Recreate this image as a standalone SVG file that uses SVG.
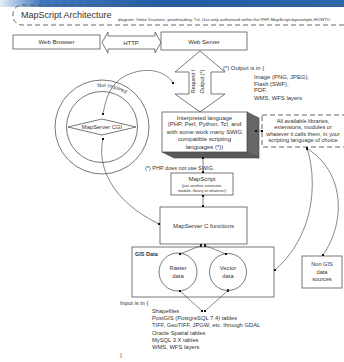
<svg xmlns="http://www.w3.org/2000/svg" width="344" height="362" viewBox="0 0 344 362">
<style>
text{font-family:"Liberation Sans",Arial,sans-serif;fill:#333}
.box{fill:#fff;stroke:#555;stroke-width:0.8}
.dash{fill:none;stroke:#555;stroke-width:0.9;stroke-dasharray:5 3}
.c{text-anchor:middle}
.con{fill:none;stroke:#555;stroke-width:0.7}
.d{marker-start:url(#dot);marker-end:url(#dot)}
</style>
<defs>
<linearGradient id="bg" x1="0" y1="0" x2="1" y2="0">
<stop offset="0" stop-color="#e6eef7"/>
<stop offset="0.12" stop-color="#3f78bd"/>
<stop offset="0.5" stop-color="#1f5ca6"/>
<stop offset="1" stop-color="#2a68b0"/>
</linearGradient>
<marker id="dot" viewBox="0 0 4 4" refX="2" refY="2" markerWidth="2.6" markerHeight="2.6" markerUnits="userSpaceOnUse"><rect x="0" y="0" width="4" height="4" fill="#111"/></marker>
</defs>
<rect x="0" y="0" width="344" height="7" fill="url(#bg)"/>
<g id="title">
<rect x="13" y="5" width="340" height="20" rx="9" class="dash" fill="#fff"/>
<text x="21" y="18" font-size="9">MapScript Architecture</text>
<text x="118" y="21" font-size="4.3" fill="#666">diagram: Vinko Vrsalovic; proofreading: Tvl. Use only authorized within the PHP-MapScript-byexample-HOWTO</text>
</g>
<g id="web-browser">
<rect x="13" y="35" width="87" height="14" class="box"/>
<text x="56.5" y="44" font-size="6" class="c">Web Browser</text>
</g>
<g id="http">
<polygon points="102,42.5 108,32 108,36 155,36 155,32 161,42.5 155,53 155,49 108,49 108,53" class="box"/>
<text x="131" y="44.5" font-size="6" class="c">HTTP</text>
</g>
<g id="web-server">
<rect x="161" y="32" width="86" height="18" class="box"/>
<text x="204" y="43.5" font-size="6" class="c">Web Server</text>
</g>
<g id="request-output">
<polygon points="200,51 225,72 211,72 211,94 225,94 200,112 175,94 189,94 189,72 175,72" class="box"/>
<text transform="translate(194.5,81.5) rotate(-90)" font-size="5.5" class="c">Request /</text>
<text transform="translate(203.5,81.5) rotate(-90)" font-size="5.5" class="c">Output (*)</text>
</g>
<g id="output-note" font-size="5.9">
<text x="223" y="70">(*) Output is in {</text>
<text x="254" y="79">Image (PNG, JPEG),</text>
<text x="254" y="85.5">Flash (SWF),</text>
<text x="254" y="92">PDF,</text>
<text x="254" y="100">WMS, WFS layers</text>
</g>
<g id="interpreted-language">
<polygon points="247,112 259,118 259,158 247,152" fill="#666" stroke="#444" stroke-width="0.6"/>
<polygon points="162,152 247,152 259,158 174,158" fill="#5a5a5a" stroke="#444" stroke-width="0.6"/>
<rect x="162" y="112" width="85" height="40" class="box"/>
<g font-size="6" class="c">
<text x="204.5" y="119.5">Interpreted language</text>
<text x="204.5" y="126">(PHP, Perl, Python, Tcl, and</text>
<text x="204.5" y="133.5">with some work many SWIG</text>
<text x="204.5" y="141">compatible scripting</text>
<text x="204.5" y="149">languages (*))</text>
</g>
</g>
<g id="libraries">
<rect x="262" y="115" width="95" height="32" class="dash" fill="#fff"/>
<g font-size="5.6" class="c">
<text x="303" y="123">All available libraries,</text>
<text x="303" y="129">extensions, modules or</text>
<text x="303" y="135.5">whatever it calls them, in your</text>
<text x="303" y="142">scripting language of choice</text>
</g>
</g>
<g id="php-note">
<text x="145" y="170" font-size="5.5">(*) PHP does not use SWIG.</text>
</g>
<g id="mapscript">
<rect x="171" y="173" width="62" height="22" class="box"/>
<text x="202" y="181" font-size="6" class="c">MapScript</text>
<text x="202" y="187" font-size="3.9" class="c">(just another extension,</text>
<text x="202" y="192" font-size="3.9" class="c">module, library or whatever)</text>
</g>
<g id="c-functions">
<rect x="160" y="207" width="87" height="37" class="box"/>
<text x="203.5" y="227.5" font-size="6" class="c">MapServer C functions</text>
</g>
<g id="gis-data">
<rect x="132" y="247" width="142" height="50" class="box"/>
<text x="135" y="256" font-size="5.5" font-weight="bold">GIS Data</text>
</g>
<g id="raster">
<circle cx="178" cy="272" r="19" class="box"/>
<text x="178" y="270" font-size="5.8" class="c">Raster</text>
<text x="178" y="277.5" font-size="5.8" class="c">data</text>
</g>
<g id="vector">
<circle cx="228" cy="272" r="18.5" class="box"/>
<text x="228" y="270" font-size="5.8" class="c">Vector</text>
<text x="228" y="277.5" font-size="5.8" class="c">data</text>
</g>
<g id="non-gis">
<rect x="302" y="256" width="40" height="32" class="box"/>
<text x="322" y="266" font-size="5.6" class="c">Non GIS</text>
<text x="322" y="273.5" font-size="5.6" class="c">data</text>
<text x="322" y="281" font-size="5.6" class="c">sources</text>
</g>
<g id="input-note" font-size="5.8">
<text x="120" y="305">Input is in {</text>
<text x="152" y="313">Shapefiles</text>
<text x="152" y="319.5">PostGIS (PostgreSQL 7.4) tables</text>
<text x="152" y="327">TIFF, GeoTIFF, JPGW, etc. through GDAL</text>
<text x="152" y="335">Oracle Spatial tables</text>
<text x="152" y="342">MySQL 3.X tables</text>
<text x="152" y="349">WMS, WFS layers</text>
<text x="120" y="357">}</text>
</g>
<g id="mapserver-cgi">
<path d="M55,127 a47,47 0 1 0 94,0 a47,47 0 1 0 -94,0 Z M66.5,127 a35.5,35.5 0 1 0 71,0 a35.5,35.5 0 1 0 -71,0 Z" fill="#fff" fill-rule="evenodd" stroke="#555" stroke-width="0.8"/>
<path id="ringarc" d="M97.5,87.3 A40,40 0 0 1 140,112" fill="none"/>
<text font-size="5.3"><textPath href="#ringarc">Not required</textPath></text>
<polygon points="68,127 102,119 136,127 102,135" class="box"/>
<text x="102" y="129" font-size="5.8" class="c">MapServer CGI</text>
</g>
<g id="connectors">
<path d="M103,114 C106,98 110,84 125,76 C145,66 165,70 173,83" class="con d"/>
<path d="M103,139 C97,165 110,200 159,224" class="con d"/>
<line x1="203" y1="158" x2="203" y2="172" class="con d"/>
<line x1="203" y1="196" x2="203" y2="206" class="con d"/>
<line x1="256" y1="131" x2="262" y2="131" class="con d"/>
<line x1="201" y1="245.5" x2="180" y2="254" class="con d"/>
<line x1="205" y1="245.5" x2="226" y2="254" class="con d"/>
<line x1="180" y1="291" x2="202" y2="311" class="con d"/>
<line x1="228" y1="290.5" x2="205" y2="311" class="con d"/>
<path d="M307,148.5 C316,175 318,232 275,270" class="con d"/>
<path d="M307,148.5 C345,172 346,222 323,255" class="con d"/>
</g>
</svg>
